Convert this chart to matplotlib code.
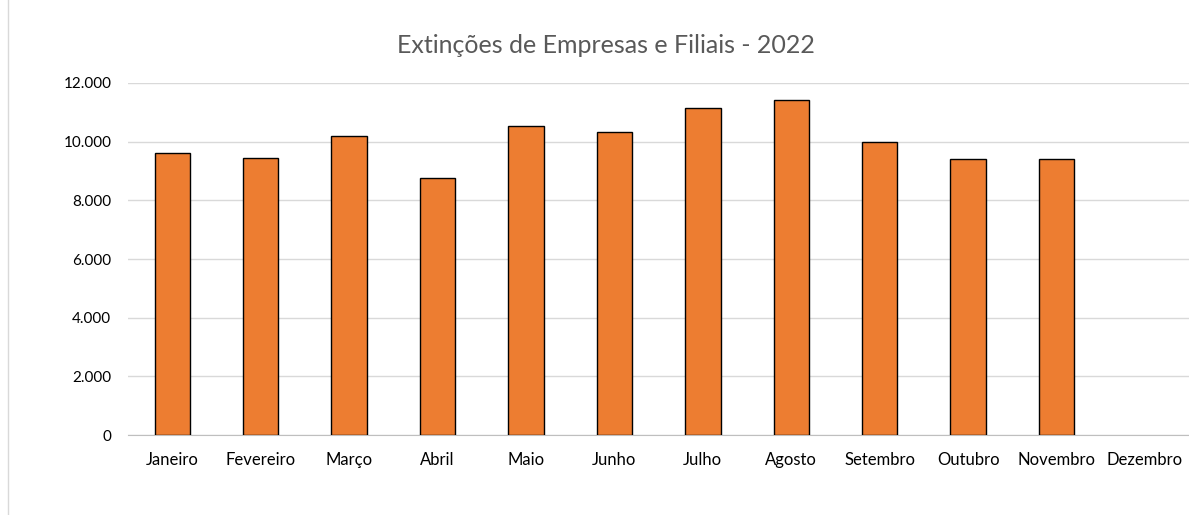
import matplotlib.pyplot as plt
from matplotlib.lines import Line2D
from matplotlib.ticker import FuncFormatter

months = ["Janeiro", "Fevereiro", "Março", "Abril", "Maio", "Junho",
          "Julho", "Agosto", "Setembro", "Outubro", "Novembro", "Dezembro"]
# Dezembro sem dados
extincoes = [9625, 9455, 10190, 8750, 10520, 10340,
             11135, 11418, 10000, 9410, 9410, float("nan")]

plt.rcParams['font.family'] = ['Lato', 'DejaVu Sans']

fig = plt.figure(figsize=(11.89, 5.15), dpi=100)
ax = fig.add_axes([0.1077, 0.155, 0.8925, 0.684])

x = list(range(len(months)))
ax.bar(x, extincoes, width=0.4, color="#ED7D31", edgecolor="black", linewidth=1.0, zorder=3)

ax.set_ylim(0, 12000)
ax.set_xlim(-0.5, len(months) - 0.5)
ax.set_yticks(range(0, 12001, 2000))
ax.yaxis.set_major_formatter(FuncFormatter(lambda v, p: f"{int(v):,}".replace(",", ".")))
ax.set_xticks(x)
ax.set_xticklabels(months)

ax.grid(axis='y', color="#d9d9d9", linewidth=1.0, zorder=0)
for s in ["top", "right", "left"]:
    ax.spines[s].set_visible(False)
ax.spines["bottom"].set_color("#bfbfbf")
ax.tick_params(axis='both', length=0, colors="black")
ax.tick_params(axis='x', pad=12, labelsize=12)
ax.tick_params(axis='y', pad=12, labelsize=11)

fig.text(0.51, 0.912, "Extinções de Empresas e Filiais - 2022", ha="center", va="center",
         fontsize=18, color="#595959")

# chart-area frame edge on the left
fig.add_artist(Line2D([8 / 1189, 8 / 1189], [0, 1], color="#d9d9d9", linewidth=1.0))

plt.savefig("out.png", dpi=100)
